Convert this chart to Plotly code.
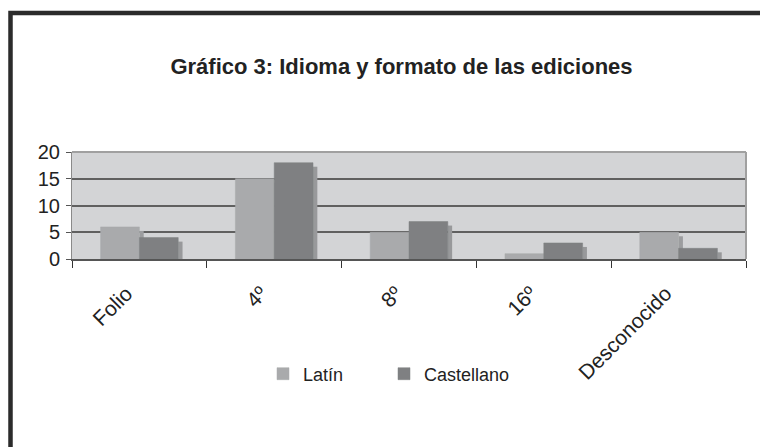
import plotly.graph_objects as go

categories = ["Folio", "4º", "8º", "16º", "Desconocido"]
latin = [6, 15, 5, 1, 5]
castellano = [4, 18, 7, 3, 2]
y_ticks = [0, 5, 10, 15, 20]

W, H = 760, 447
ML, MR, MT, MB = 72, 14, 152, 188
PW, PH = W - ML - MR, H - MT - MB

DEPTH = 0.75          # apparent 3D depth drop (value units)
BW = 0.288            # front bar width (category units)
SW = 0.032            # side face width

FONT = "Liberation Sans, Arial, sans-serif"
TXT = "#222222"

latin_side = [v - DEPTH for v in latin]
cast_side = [v - DEPTH for v in castellano]

fig = go.Figure()
fig.add_trace(go.Bar(x=categories, y=latin_side, offset=0.0, width=SW,
                     marker=dict(color="#9c9d9f", line=dict(width=0)),
                     showlegend=False, hoverinfo="skip"))
fig.add_trace(go.Bar(x=categories, y=cast_side, offset=BW, width=SW,
                     marker=dict(color="#98999b", line=dict(width=0)),
                     showlegend=False, hoverinfo="skip"))
fig.add_trace(go.Bar(x=categories, y=latin, name="Latín", offset=-BW, width=BW,
                     marker=dict(color="#a9aaac", line=dict(width=0.5, color="#a9aaac")),
                     legend="legend"))
fig.add_trace(go.Bar(x=categories, y=castellano, name="Castellano", offset=0.0, width=BW,
                     marker=dict(color="#7f8082", line=dict(width=0.5, color="#7f8082")),
                     legend="legend2"))

def px_x(px):
    return (px - ML) / PW

def px_y(py):
    return (H - MB - py) / PH

shapes = [
    # outer chart frame (right/bottom edges fall outside the window)
    dict(type="rect", xref="paper", yref="paper",
         x0=px_x(10.5), x1=px_x(820), y0=px_y(13), y1=px_y(480),
         line=dict(color="#2b2b2b", width=4.5), fillcolor="rgba(0,0,0,0)", layer="above"),
    # plot area top and right edges
    dict(type="line", xref="paper", yref="paper", x0=0, x1=1, y0=1, y1=1,
         line=dict(color="#a0a0a0", width=2), layer="above"),
    dict(type="line", xref="paper", yref="paper", x0=1, x1=1, y0=0, y1=1,
         line=dict(color="#a0a0a0", width=2), layer="above"),
]

legend_common = dict(orientation="h", xref="container", yref="container",
                     xanchor="left", yanchor="middle",
                     font=dict(size=18, color=TXT), bgcolor="rgba(0,0,0,0)")

fig.update_layout(
    width=W, height=H,
    margin=dict(l=ML, r=MR, t=MT, b=MB, pad=0, autoexpand=False),
    paper_bgcolor="white",
    plot_bgcolor="#d3d4d6",
    barmode="overlay",
    font=dict(family=FONT, color=TXT),
    title=dict(text="<b>Gráfico 3: Idioma y formato de las ediciones</b>",
               x=401.5 / W, xref="container", xanchor="center",
               y=1 - 66 / H, yref="container", yanchor="middle",
               font=dict(size=22, family=FONT, color=TXT)),
    xaxis=dict(type="category", tickson="boundaries", ticks="outside", ticklen=7,
               tickcolor="#333333", tickwidth=1, automargin=False,
               showline=True, linecolor="#555555", linewidth=2,
               tickangle=-45, tickfont=dict(size=21, color=TXT),
               ticklabelshift=-13, ticklabelstandoff=12,
               showgrid=False, range=[-0.5, 4.5]),
    yaxis=dict(range=[0, 20], tickvals=y_ticks, ticks="outside", ticklen=5,
               tickcolor="#555555", showline=True, linecolor="#8a8a8a", linewidth=1,
               showgrid=True, gridcolor="#606060", gridwidth=1.5, automargin=False,
               ticklabelstandoff=2,
               zeroline=False, tickfont=dict(size=20, color=TXT)),
    legend=dict(legend_common, x=263 / W, y=1 - 374 / H),
    legend2=dict(legend_common, x=384 / W, y=1 - 374 / H),
    shapes=shapes,
)

fig.write_html("out.html",
               config={"displayModeBar": False},
               post_script="document.body.style.margin='0';document.body.style.padding='0';")
